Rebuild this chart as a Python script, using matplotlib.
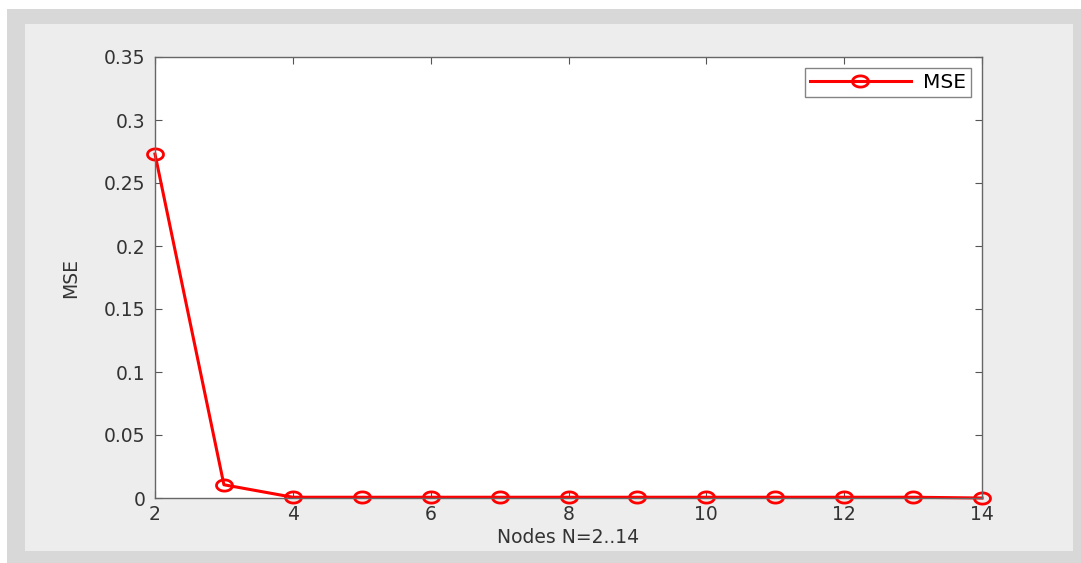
import matplotlib.pyplot as plt
from matplotlib.patches import Rectangle
from matplotlib.path import Path
import numpy as np

# MSE against number of nodes
nodes = [2, 3, 4, 5, 6, 7, 8, 9, 10, 11, 12, 13, 14]
mse = [0.273, 0.0105, 0.0006, 0.0006, 0.0006, 0.0006, 0.0006, 0.0006,
       0.0006, 0.0006, 0.0006, 0.0006, 0.0]

x_ticks = [2, 4, 6, 8, 10, 12, 14]
y_ticks = [0, 0.05, 0.1, 0.15, 0.2, 0.25, 0.3, 0.35]
y_labels = ['0', '0.05', '0.1', '0.15', '0.2', '0.25', '0.3', '0.35']

plt.rcParams['font.family'] = ['DejaVu Sans']

# the screenshot is stretched sideways, so the circles look like ellipses
t = np.linspace(0, 2 * np.pi, 60)
ellipse = Path(np.column_stack([np.cos(t), 0.7 * np.sin(t)]), closed=True)

W, H = 1081, 563
fig = plt.figure(figsize=(W / 100, H / 100), dpi=100, facecolor='white')

# window frame like the screenshot
fig.patches.append(Rectangle((7 / W, 0), 1 - 7 / W, 1 - 9 / H, transform=fig.transFigure,
                             facecolor='#d8d8d8', edgecolor='none', zorder=-3))
fig.patches.append(Rectangle((25 / W, 12 / H), (1073 - 25) / W, (551 - 24) / H,
                             transform=fig.transFigure, facecolor='#ededed',
                             edgecolor='none', zorder=-2))

ax = fig.add_axes([155 / W, 1 - 498 / H, (982 - 155) / W, (498 - 57) / H])
ax.set_facecolor('white')

ax.plot(nodes, mse, color='red', linewidth=2.2, marker=ellipse, markersize=11.5,
        markerfacecolor='none', markeredgecolor='red', markeredgewidth=2,
        label='MSE', clip_on=False)

ax.set_xlim(2, 14)
ax.set_ylim(0, 0.35)
ax.set_xticks(x_ticks)
ax.set_yticks(y_ticks)
ax.set_yticklabels(y_labels)
ax.tick_params(direction='in', top=True, right=True, length=5, width=0.8,
               colors='#555555', labelcolor='#333333', labelsize=13.5)
ax.tick_params(axis='x', pad=5)
ax.tick_params(axis='y', pad=7)
for s in ax.spines.values():
    s.set_color('#666666')
    s.set_linewidth(1)

ax.set_xlabel('Nodes N=2..14', fontsize=13.5, color='#333333', labelpad=3)
ax.set_ylabel('MSE', fontsize=13.5, color='#333333', labelpad=17)

leg = ax.legend(loc='upper right', fontsize=14.5, handlelength=5.0, frameon=True,
                fancybox=False, borderaxespad=0.55, borderpad=0.25,
                handletextpad=0.6)
leg.get_frame().set_edgecolor('#666666')
leg.get_frame().set_linewidth(1)

fig.savefig('out.png', dpi=100)
